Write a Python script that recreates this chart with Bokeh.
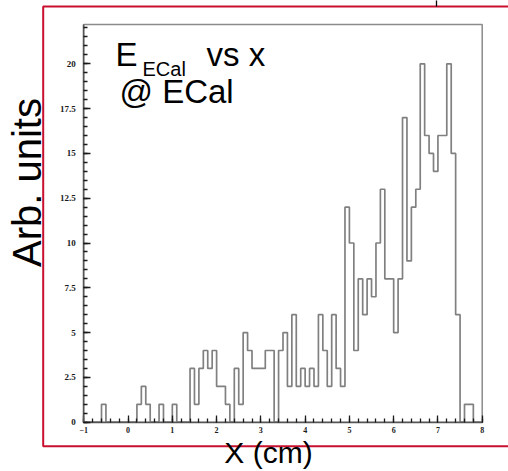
import math
from bokeh.plotting import figure
from bokeh.models import Range1d, SingleIntervalTicker, NumeralTickFormatter, Label
from bokeh.embed import file_html
from bokeh.resources import INLINE

# ---- data (bins of 0.1 cm from -1 to 8) ----
bin_start = -1.0
bin_width = 0.1
counts = [
    0, 0, 0, 0, 1, 0, 0, 0, 0, 0,
    0, 0, 1, 2, 1, 0, 0, 1, 0, 0,
    1, 0, 0, 0, 3, 1, 3, 4, 3, 4,
    2, 2, 1, 0, 3, 1, 5, 4, 3, 3,
    3, 4, 4, 0, 4, 5, 2, 6, 2, 3,
    2, 3, 2, 6, 4, 2, 6, 3, 2, 12,
    10, 4, 8, 6, 8, 7, 10, 13, 8, 8,
    5, 8, 17, 9, 12, 13, 20, 16, 15, 14,
    16, 16, 20, 15, 6, 0, 1, 1, 0, 0,
]
x_min, x_max = -1, 8
y_min, y_max = 0, 22.2
x_tick_interval = 1
y_tick_interval = 2.5
title_main = "E"
title_sub = "ECal"
title_rest = "vs x"
title_line2 = "@ ECal"
x_label = "X (cm)"
y_label = "Arb. units"

# ---- layout (pixel geometry of the canvas) ----
W, H = 508, 471
px_xmin, px_xmax = 83.3, 481.7     # canvas x of x_min / x_max
py_y0, py_y20 = 421.7, 63.3         # canvas y of 0 and 20
sx_per = (px_xmax - px_xmin) / (x_max - x_min)
sy_per = (py_y0 - py_y20) / 20.0


def dx(px):
    return x_min + (px - px_xmin) / sx_per


def dy(py):
    return (py_y0 - py) / sy_per


edges = [bin_start + bin_width * i for i in range(len(counts) + 1)]
ys = counts + [counts[-1]]

p = figure(width=W, height=H, x_range=Range1d(dx(0), dx(W)), y_range=Range1d(dy(H), dy(0)),
           output_backend="svg", toolbar_location=None, min_border=0)
p.grid.visible = False
p.background_fill_color = "white"
p.border_fill_color = "white"
p.outline_line_color = None

# outer red box and small black mark
p.quad(left=dx(42.7), right=dx(W + 20), top=dy(6), bottom=dy(445.7),
       fill_alpha=0, line_color="#c8102e", line_width=2)
p.segment(x0=dx(436), y0=dy(-2), x1=dx(436), y1=dy(6), line_color="black", line_width=1.3)

# gray plot frame
p.quad(left=x_min, right=x_max, bottom=y_min, top=y_max, fill_alpha=0,
       line_color="#8a8a8a", line_width=1.5)

p.xaxis.fixed_location = y_min
p.yaxis.fixed_location = x_min
p.xaxis.bounds = (x_min, x_max)
p.yaxis.bounds = (y_min, y_max)
p.xaxis.ticker = SingleIntervalTicker(interval=x_tick_interval, num_minor_ticks=5)
p.yaxis.ticker = SingleIntervalTicker(interval=y_tick_interval, num_minor_ticks=5)
p.yaxis.formatter = NumeralTickFormatter(format="0.[0]")
for ax in (p.xaxis[0], p.yaxis[0]):
    ax.major_tick_in = 7
    ax.major_tick_out = 0
    ax.minor_tick_in = 4
    ax.minor_tick_out = 0
    ax.major_tick_line_color = "#1a1a1a"
    ax.minor_tick_line_color = "#1a1a1a"
    ax.major_tick_line_width = 1.3
    ax.minor_tick_line_width = 1.3
    ax.axis_line_color = "#555555"
    ax.axis_line_width = 1.5
    ax.major_label_text_font = "Liberation Serif"
    ax.major_label_text_font_style = "bold"
    ax.major_label_text_color = "#1a1a1a"
p.xaxis.major_label_text_font_size = "8px"
p.yaxis.major_label_text_font_size = "9px"
p.xaxis.major_label_standoff = 5
p.yaxis.major_label_standoff = 8

p.step(edges, ys, mode="after", line_color="#808080", line_width=1.7)

font = "Liberation Sans"


def lab(px, py, text, size, **kw):
    # px, py: canvas position (from top-left) of the text anchor (vertical middle)
    p.add_layout(Label(x=px, y=H - py, x_units="screen", y_units="screen", text=text,
                       text_font=font, text_font_size=size, text_color="black",
                       text_baseline="middle", **kw))


lab(115, 54, title_main, "33px")
lab(142, 68, title_sub, "20px")
lab(206, 54, title_rest, "33px")
lab(119, 91, title_line2, "33px")
lab(268, 452, x_label, "30px", text_align="center")
lab(26, 182, y_label, "40px", text_align="center", angle=math.pi / 2)

open("out.html", "w").write(file_html(p, INLINE))
